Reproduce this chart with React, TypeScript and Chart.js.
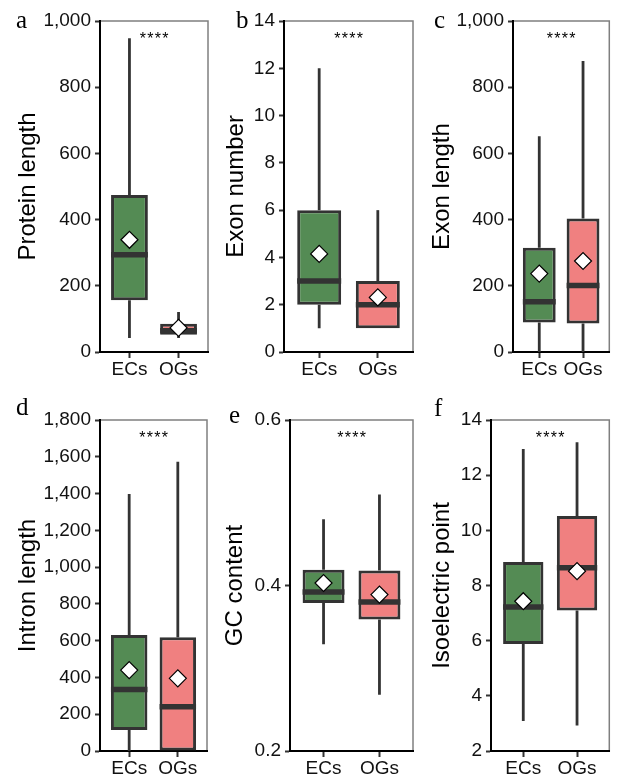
import { useEffect, useRef } from 'react';
import { Chart, registerables } from 'chart.js';

Chart.register(...registerables);

const W = 619;
const H = 778;

// ---------- data ----------
const groups = ['ECs', 'OGs'];
const groupPositions = [1, 2];
const fillColors = ['#548B54', '#F08080'];
const significance = '****';

// five-number summaries: [min, q1, median, q3, max]
const proteinLengthECs = [42, 156, 294, 474, 948];
const proteinLengthOGs = [42, 52, 64, 85, 121];
const proteinLengthMean = [339, 73];
const proteinLengthTicks = [0, 200, 400, 600, 800, 1000];

const exonNumberECs = [1, 2, 3, 6, 12];
const exonNumberOGs = [1, 1, 2, 3, 6];
const exonNumberMean = [4.15, 2.31];
const exonNumberTicks = [0, 2, 4, 6, 8, 10, 12, 14];

const exonLengthECs = [0, 89, 152, 315, 652];
const exonLengthOGs = [0, 86, 201, 403, 879];
const exonLengthMean = [237, 275];
const exonLengthTicks = [0, 200, 400, 600, 800, 1000];

const intronLengthECs = [0, 114, 335, 631, 1397];
const intronLengthOGs = [0, 0, 241, 618, 1573];
const intronLengthMean = [440, 395];
const intronLengthTicks = [0, 200, 400, 600, 800, 1000, 1200, 1400, 1600, 1800];

const gcContentECs = [0.329, 0.379, 0.392, 0.419, 0.48];
const gcContentOGs = [0.268, 0.359, 0.38, 0.418, 0.51];
const gcContentMean = [0.403, 0.389];
const gcContentTicks = [0.2, 0.4, 0.6];

const isoelectricECs = [3.09, 5.88, 7.22, 8.85, 12.95];
const isoelectricOGs = [2.92, 7.09, 8.64, 10.52, 13.19];
const isoelectricMean = [7.43, 8.52];
const isoelectricTicks = [2, 4, 6, 8, 10, 12, 14];

const comma = (v: number) => v.toLocaleString('en-US');
const oneDec = (v: number) => v.toFixed(1);
const plain = (v: number) => String(v);

type Panel = {
  tag: string;
  title: string;
  ecs: number[];
  ogs: number[];
  mean: number[];
  ticks: number[];
  fmt: (v: number) => string;
  frame: { left: number; right: number; top: number; bottom: number };
  titleX: number;
  tagX: number;
  tagY: number;
};

const panels: Panel[] = [
  { tag: 'a', title: 'Protein length', ecs: proteinLengthECs, ogs: proteinLengthOGs, mean: proteinLengthMean, ticks: proteinLengthTicks, fmt: comma,
    frame: { left: 100, right: 208, top: 21, bottom: 352 }, titleX: 28, tagX: 16, tagY: 28 },
  { tag: 'b', title: 'Exon number', ecs: exonNumberECs, ogs: exonNumberOGs, mean: exonNumberMean, ticks: exonNumberTicks, fmt: plain,
    frame: { left: 284, right: 413, top: 21, bottom: 352 }, titleX: 236, tagX: 236, tagY: 28 },
  { tag: 'c', title: 'Exon length', ecs: exonLengthECs, ogs: exonLengthOGs, mean: exonLengthMean, ticks: exonLengthTicks, fmt: comma,
    frame: { left: 513, right: 618, top: 21, bottom: 352 }, titleX: 442, tagX: 434, tagY: 28 },
  { tag: 'd', title: 'Intron length', ecs: intronLengthECs, ogs: intronLengthOGs, mean: intronLengthMean, ticks: intronLengthTicks, fmt: comma,
    frame: { left: 100, right: 207, top: 420, bottom: 751 }, titleX: 28, tagX: 16, tagY: 415 },
  { tag: 'e', title: 'GC content', ecs: gcContentECs, ogs: gcContentOGs, mean: gcContentMean, ticks: gcContentTicks, fmt: oneDec,
    frame: { left: 290, right: 413, top: 420, bottom: 751 }, titleX: 235, tagX: 229, tagY: 423 },
  { tag: 'f', title: 'Isoelectric point', ecs: isoelectricECs, ogs: isoelectricOGs, mean: isoelectricMean, ticks: isoelectricTicks, fmt: plain,
    frame: { left: 491, right: 618, top: 420, bottom: 751 }, titleX: 442, tagX: 434, tagY: 416 },
];

const SANS = '"Liberation Sans", Arial, sans-serif';
const SERIF = '"Liberation Serif", "Times New Roman", serif';
const DARK = '#333333';

const boxExtras = {
  id: 'boxExtras',
  beforeDraw(chart: any) {
    const { left, right, top, bottom } = chart.chartArea;
    const ctx = chart.ctx;
    ctx.save();
    ctx.strokeStyle = '#7f7f7f';
    ctx.lineWidth = 1.5;
    ctx.strokeRect(left, top, right - left, bottom - top);
    ctx.restore();
  },
  beforeDatasetDraw(chart: any, args: any, opts: any) {
    if (args.meta.type !== 'bar') return;
    const ctx = chart.ctx;
    const ys = chart.scales.y;
    ctx.save();
    ctx.strokeStyle = DARK;
    ctx.lineWidth = 2.8;
    args.meta.data.forEach((el: any, i: number) => {
      const s = opts.stats[i];
      const x = el.x;
      ctx.beginPath();
      ctx.moveTo(x, ys.getPixelForValue(s[3]));
      ctx.lineTo(x, ys.getPixelForValue(s[4]));
      ctx.moveTo(x, ys.getPixelForValue(s[1]));
      ctx.lineTo(x, ys.getPixelForValue(s[0]));
      ctx.stroke();
    });
    ctx.restore();
  },
  afterDatasetDraw(chart: any, args: any, opts: any) {
    if (args.meta.type !== 'bar') return;
    const ctx = chart.ctx;
    const ys = chart.scales.y;
    ctx.save();
    ctx.strokeStyle = DARK;
    ctx.lineWidth = 5.5;
    args.meta.data.forEach((el: any, i: number) => {
      const s = opts.stats[i];
      const y = ys.getPixelForValue(s[2]);
      ctx.beginPath();
      ctx.moveTo(el.x - el.width / 2, y);
      ctx.lineTo(el.x + el.width / 2, y);
      ctx.stroke();
    });
    ctx.restore();
  },
  afterDraw(chart: any, _args: any, opts: any) {
    const ctx = chart.ctx;
    const { top } = chart.chartArea;
    ctx.save();
    ctx.fillStyle = '#000';
    ctx.font = `25px ${SERIF}`;
    ctx.textAlign = 'left';
    ctx.textBaseline = 'alphabetic';
    ctx.fillText(opts.tag, opts.tagX, opts.tagY);
    // significance stars, centered between the two groups
    const cx = chart.scales.x.getPixelForValue((groupPositions[0] + groupPositions[1]) / 2);
    ctx.font = `16px ${SANS}`;
    ctx.textAlign = 'center';
    const chars = significance.split('');
    const step = 7.5;
    chars.forEach((c, i) => {
      ctx.fillText(c, cx + (i - (chars.length - 1) / 2) * step, top + 23);
    });
    ctx.restore();
  },
};

function makeConfig(p: Panel): any {
  const xAxisH = 30;
  const titleSize = 24;
  const padLeft = p.titleX - (titleSize * 1.2) / 2;
  const yW = p.frame.left - padLeft;
  const stats = [p.ecs, p.ogs];
  return {
    type: 'bar',
    data: {
      datasets: [
        {
          type: 'scatter',
          data: groupPositions.map((x, i) => ({ x, y: p.mean[i] })),
          pointStyle: 'rectRot',
          pointRadius: 8.5,
          pointHoverRadius: 8.5,
          backgroundColor: '#ffffff',
          borderColor: '#000000',
          borderWidth: 1.2,
          order: 1,
        },
        {
          type: 'bar',
          data: groupPositions.map((x, i) => ({ x, y: [stats[i][1], stats[i][3]] })),
          backgroundColor: fillColors,
          borderColor: DARK,
          borderWidth: 3,
          borderSkipped: false,
          barPercentage: 0.75,
          categoryPercentage: 1,
          order: 2,
        },
      ],
    },
    options: {
      responsive: false,
      animation: false,
      events: [],
      layout: {
        padding: {
          left: padLeft,
          top: p.frame.top,
          right: W - p.frame.right,
          bottom: H - p.frame.bottom - xAxisH,
        },
      },
      plugins: {
        legend: { display: false },
        tooltip: { enabled: false },
        boxExtras: { stats, tag: p.tag, tagX: p.tagX, tagY: p.tagY },
      },
      scales: {
        x: {
          type: 'linear',
          min: 0.4,
          max: 2.6,
          offset: false,
          afterBuildTicks: (s: any) => {
            s.ticks = groupPositions.map((v) => ({ value: v }));
          },
          afterFit: (s: any) => {
            s.height = xAxisH;
          },
          ticks: {
            callback: (_v: any, i: number) => groups[i],
            font: { family: SANS, size: 19 },
            color: '#111',
            padding: 0,
            maxRotation: 0,
            autoSkip: false,
          },
          grid: {
            display: true,
            drawOnChartArea: false,
            drawTicks: true,
            tickLength: 6,
            tickWidth: 2,
            tickColor: DARK,
            offset: false,
          },
          border: { display: true, color: '#000', width: 2 },
        },
        y: {
          type: 'linear',
          min: p.ticks[0],
          max: p.ticks[p.ticks.length - 1],
          afterBuildTicks: (s: any) => {
            s.ticks = p.ticks.map((v) => ({ value: v }));
          },
          afterFit: (s: any) => {
            s.width = yW;
          },
          ticks: {
            callback: (v: any) => p.fmt(Number(v)),
            font: { family: SANS, size: 19 },
            color: '#111',
            padding: 4,
            autoSkip: false,
          },
          grid: {
            display: true,
            drawOnChartArea: false,
            drawTicks: true,
            tickLength: 5,
            tickWidth: 2,
            tickColor: DARK,
          },
          border: { display: true, color: '#000', width: 2 },
          title: {
            display: true,
            text: p.title,
            font: { family: SANS, size: titleSize },
            color: '#000',
            padding: 0,
          },
        },
      },
    },
    plugins: [boxExtras],
  };
}

function PanelChart({ p }: { p: Panel }) {
  const ref = useRef<HTMLCanvasElement>(null);
  useEffect(() => {
    const chart = new Chart(ref.current as HTMLCanvasElement, makeConfig(p));
    return () => chart.destroy();
  }, [p]);
  return (
    <canvas
      ref={ref}
      width={W}
      height={H}
      style={{ position: 'absolute', left: 0, top: 0, width: W, height: H }}
    />
  );
}

export default function App() {
  return (
    <div style={{ position: 'absolute', left: 0, top: 0, width: W, height: H, background: '#ffffff' }}>
      {panels.map((p) => (
        <PanelChart key={p.tag} p={p} />
      ))}
    </div>
  );
}
